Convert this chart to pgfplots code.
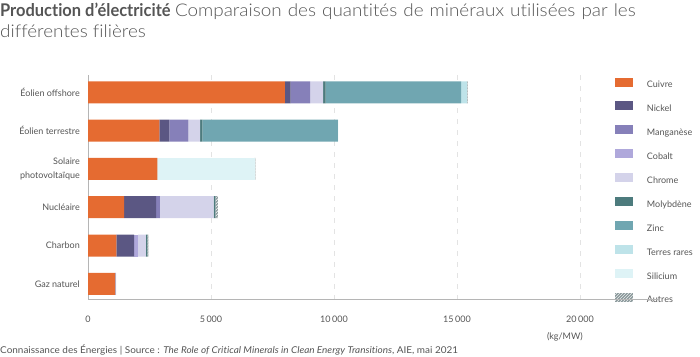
\documentclass[border=0pt]{standalone}
\usepackage{pgfplots}
\pgfplotsset{compat=1.18}
\usepackage{pgfplotstable}
\usetikzlibrary{patterns}
\usepackage{fontspec}
\setmainfont{Lato}
\IfFontExistsTF{Lato Light}{\newfontfamily\lightfont{Lato Light}[Ligatures=NoCommon, FakeStretch=1.08]}{\newfontfamily\lightfont{Lato}[Ligatures=NoCommon, FakeStretch=1.08]}
\newfontfamily\condbold{Lato}[FakeStretch=0.94, Ligatures=NoCommon]
\newfontfamily\footfont{Lato}[FakeStretch=1.06, Ligatures=NoCommon]

\definecolor{cCu}{HTML}{E56B31}
\definecolor{cNi}{HTML}{5B5783}
\definecolor{cMn}{HTML}{8680B9}
\definecolor{cCo}{HTML}{AFA8DB}
\definecolor{cCr}{HTML}{D4D3EA}
\definecolor{cMo}{HTML}{4D7B7D}
\definecolor{cZn}{HTML}{70A6B1}
\definecolor{cRe}{HTML}{BEE3E9}
\definecolor{cSi}{HTML}{DEF3F6}
\definecolor{cAu}{HTML}{8C9A9C}
\definecolor{txt}{HTML}{555555}
\definecolor{gridc}{HTML}{E3E3E3}
\definecolor{axc}{HTML}{B5B5B5}

\pgfplotstableread{
y cu ni mn co cr mo zn re si au
0 8000 240 790 0 525 109 5500 239 0 25
1 2900 404 780 0 470 99 5500 14 0 0
2 2822 0 0 0 0 0 0 0 3950 30
3 1473 1297 148 0 2190 70 0 0 0 100
4 1150 721 0 170 308 66 0 0 0 40
5 1100 16 0 0 30 0 0 0 0 0
}\data

\begin{document}
\begin{tikzpicture}
\useasboundingbox (0,0) rectangle (700bp,357bp);
\begin{axis}[
  name=ax,
  at={(88bp,57bp)}, anchor=south west,
  scale only axis, width=492bp, height=225bp,
  xbar stacked, bar width=22bp,
  xmin=0, xmax=20000,
  ymin=-0.45, ymax=5.42, y dir=reverse,
  axis line style={draw=none},
  major tick length=0pt,
  scaled x ticks=false,
  xtick={0,5000,10000,15000,20000},
  xticklabels={0,5\,000,10\,000,15\,000,20\,000},
  xticklabel style={font=\fontsize{9bp}{11bp}\selectfont, text=txt, inner sep=0pt, yshift=-16bp},
  ytick={0,1,2,3,4,5},
  yticklabels={Éolien offshore,Éolien terrestre,{Solaire\\photovoltaïque},Nucléaire,Charbon,Gaz naturel},
  yticklabel style={font=\fontsize{9bp}{14bp}\selectfont, text=txt, align=right, inner sep=0pt, xshift=-8bp},
  xmajorgrids,
  grid style={gridc, line width=1bp, dash pattern=on 5bp off 6bp},
  every axis plot/.append style={draw=none},
  legend style={at={(1.0711,0.9889)}, anchor=north west, draw=none, fill=none, inner sep=0pt, outer sep=0pt,
    font=\fontsize{9bp}{11bp}\selectfont, text=txt, row sep=11.6bp,
    nodes={inner sep=0pt, text height=7bp, text depth=2bp},
    /tikz/every odd column/.append style={column sep=14bp}},
  legend cell align=left,
  legend image code/.code={\fill[#1] (0bp,-1.2bp) rectangle (18bp,7.8bp);},
]
\addplot[fill=cCu] table[x=cu,y=y] {\data};
\addplot[fill=cNi] table[x=ni,y=y] {\data};
\addplot[fill=cMn] table[x=mn,y=y] {\data};
\addplot[fill=cCo] table[x=co,y=y] {\data};
\addplot[fill=cCr] table[x=cr,y=y] {\data};
\addplot[fill=cMo] table[x=mo,y=y] {\data};
\addplot[fill=cZn] table[x=zn,y=y] {\data};
\addplot[fill=cRe] table[x=re,y=y] {\data};
\addplot[fill=cSi] table[x=si,y=y] {\data};
\addplot[fill=cAu, postaction={pattern=north east lines, pattern color=white}] table[x=au,y=y] {\data};
\legend{Cuivre,Nickel,Manganèse,Cobalt,Chrome,Molybdène,Zinc,Terres rares,Silicium,Autres}
\draw[axc, line width=1.5bp] (axis cs:0,-0.45) -- (axis cs:0,5.42);
\end{axis}
\draw[axc, line width=1bp] (ax.south west) -- ([xshift=79bp]ax.south east);
\node[anchor=north east, inner sep=0pt, font=\fontsize{9bp}{11bp}\selectfont, text=txt] at ([xshift=3bp,yshift=-32bp]ax.south east) {(kg/MW)};
\node[anchor=base west, inner sep=0pt, text=txt, font=\fontsize{17.5bp}{21bp}\selectfont] at (0,340bp) {{\condbold\bfseries Production d’électricité} {\lightfont\spaceskip=6bp Comparaison des quantités de minéraux utilisées par les}};
\node[anchor=base west, inner sep=0pt, text=txt, font=\fontsize{17.5bp}{21bp}\selectfont] at (0,319bp) {\lightfont différentes filières};
\node[anchor=base west, inner sep=0pt, text=txt, font=\fontsize{9.4bp}{11bp}\selectfont] at (0,4bp) {\footfont Connaissance des Énergies | Source : \textit{The Role of Critical Minerals in Clean Energy Transitions}, AIE, mai 2021};
\end{tikzpicture}
\end{document}
